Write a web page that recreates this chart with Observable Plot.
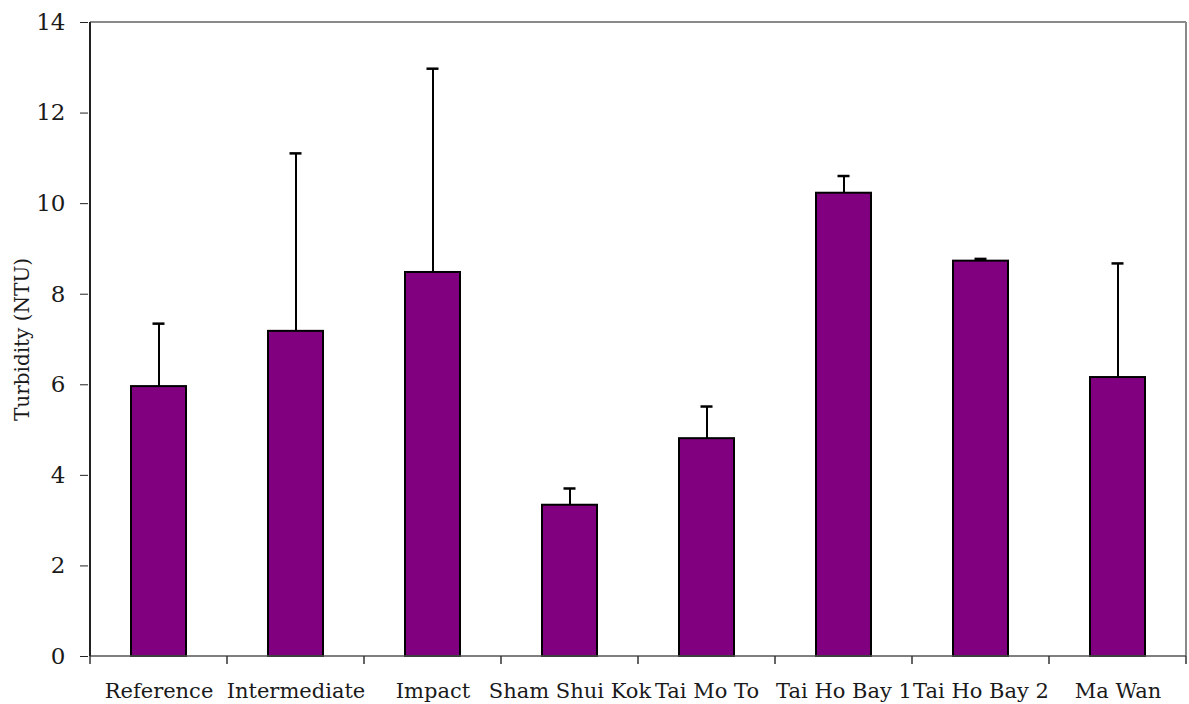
<!DOCTYPE html>
<html>
<head>
<meta charset="utf-8">
<script src="https://cdn.jsdelivr.net/npm/d3@7"></script>
<script src="https://cdn.jsdelivr.net/npm/@observablehq/plot@0.6"></script>
<style>
  html, body { margin: 0; padding: 0; background: #fff; }
  #chart { width: 1189px; height: 704px; }
</style>
</head>
<body>
<div id="chart"></div>
<script>
// ---- data ----
const sites = ["Reference", "Intermediate", "Impact", "Sham Shui Kok", "Tai Mo To", "Tai Ho Bay 1", "Tai Ho Bay 2", "Ma Wan"];
const turbidity = [5.96, 7.18, 8.48, 3.34, 4.81, 10.23, 8.73, 6.16];
const stdev = [1.39, 3.93, 4.50, 0.37, 0.71, 0.38, 0.05, 2.52];
const yTicks = [0, 2, 4, 6, 8, 10, 12, 14];

const rows = sites.map((site, i) => ({site, value: turbidity[i], upper: turbidity[i] + stdev[i]}));

const FONT = "'DejaVu Serif', 'Liberation Serif', serif";

// category boundary ticks + axis lines + grey frame, derived from the band scale
function categoryFrame(index, scales, values, dims) {
  const x = scales.x, y = scales.y;
  const bw = typeof x.bandwidth === "function" ? x.bandwidth() : (x.bandwidth || 0);
  const centers = sites.map(s => x(s) + bw / 2);
  const step = centers[1] - centers[0];
  const y0 = y(0), yTop = y(14);
  const g = d3.create("svg:g");
  const left = centers[0] - step / 2, right = centers[centers.length - 1] + step / 2;
  g.append("line").attr("x1", left).attr("x2", right).attr("y1", yTop).attr("y2", yTop)
    .attr("stroke", "#8a8a8a").attr("stroke-width", 2);
  g.append("line").attr("x1", right).attr("x2", right).attr("y1", yTop).attr("y2", y0)
    .attr("stroke", "#8a8a8a").attr("stroke-width", 2);
  g.append("line").attr("x1", left).attr("x2", right).attr("y1", y0).attr("y2", y0)
    .attr("stroke", "#555").attr("stroke-width", 1.5);
  for (let i = 0; i <= sites.length; i++) {
    const px = left + i * step;
    g.append("line").attr("x1", px).attr("x2", px).attr("y1", y0).attr("y2", y0 + 8)
      .attr("stroke", "#333").attr("stroke-width", 1.5);
  }
  g.append("line").attr("x1", left).attr("x2", left).attr("y1", yTop).attr("y2", y0)
    .attr("stroke", "#222").attr("stroke-width", 2);
  return g.node();
}

const chart = Plot.plot({
  width: 1189,
  height: 704,
  marginLeft: 88,
  marginRight: 1,
  marginTop: 22,
  marginBottom: 48,
  style: {background: "#fff", fontFamily: FONT, color: "#1a1a1a", overflow: "visible"},
  x: {domain: sites, paddingInner: 0.6, paddingOuter: 0.3, align: 0.5},
  y: {domain: [0, 14]},
  marks: [
    Plot.barY(rows, {x: "site", y: "value", fill: "#800080", stroke: "#000", strokeWidth: 2}),
    Plot.ruleX(rows, {x: "site", y1: "value", y2: "upper", stroke: "#000", strokeWidth: 2}),
    Plot.tickY(rows, {x: "site", y: "upper", stroke: "#000", strokeWidth: 2.5, insetLeft: 21.5, insetRight: 21.5}),
    categoryFrame,
    Plot.axisY({
      ticks: yTicks, tickSize: 8, tickPadding: 15, fontSize: 23, stroke: "#222",
      label: "Turbidity (NTU)", labelAnchor: "center", labelArrow: "none", labelOffset: 74
    }),
    Plot.axisX({tickSize: 0, tickPadding: 27, fontSize: 21, label: null})
  ]
});

d3.select(chart).selectAll("g[aria-label='y-axis label'] text").attr("font-size", 20);
document.getElementById("chart").appendChild(chart);
</script>
</body>
</html>
